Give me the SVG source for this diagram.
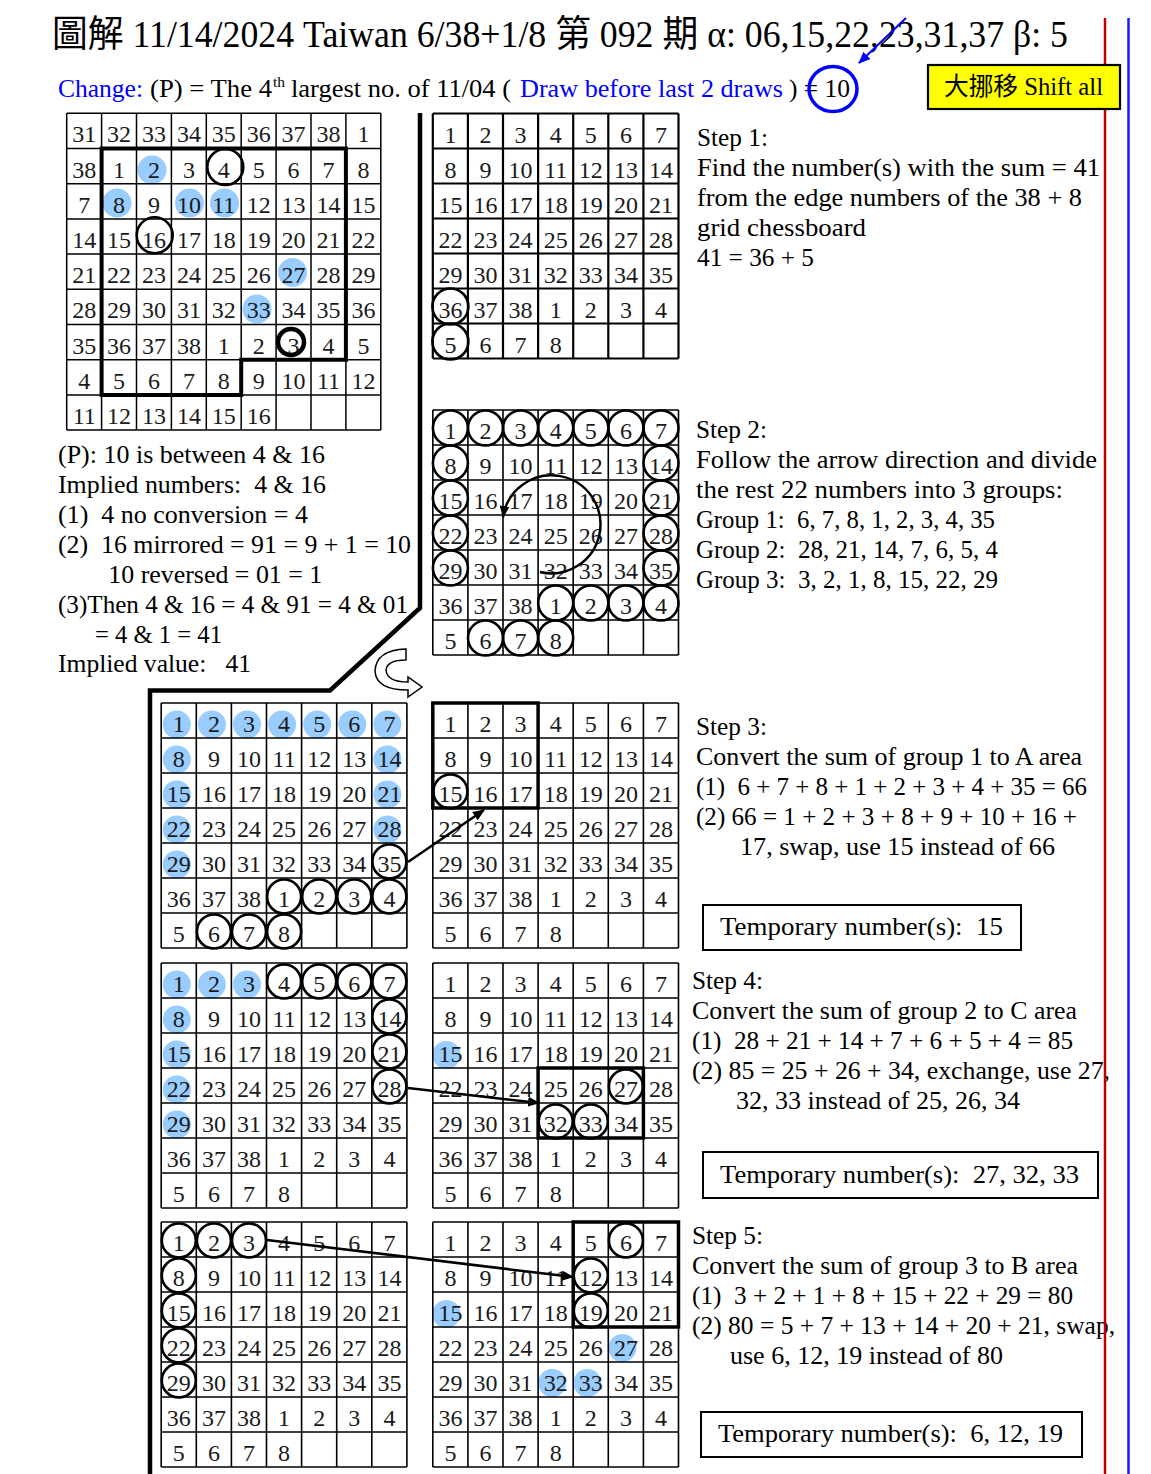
<svg xmlns="http://www.w3.org/2000/svg" width="1151" height="1474" viewBox="0 0 1151 1474">
<defs>
<style>
.t{font-family:"Liberation Serif","Noto Sans CJK TC",serif;font-size:25px;fill:#000}
.b{fill:#0000ff}
.n{font-family:"Liberation Serif",serif;font-size:24px;fill:#1a1a1a;text-anchor:middle}
.bc{fill:none;stroke:#000;stroke-width:2.6}
.bl{fill:#99ccff}
.tk{fill:none;stroke:#000;stroke-width:3.5}
.ar{fill:none;stroke:#000;stroke-width:2.5}
.box{fill:none;stroke:#000;stroke-width:2}
</style>
<marker id="ah" viewBox="0 0 12 10" refX="11" refY="5" markerWidth="12" markerHeight="10" markerUnits="userSpaceOnUse" orient="auto"><path d="M0,0L12,5L0,10z" fill="#000"/></marker>
<marker id="ahb" viewBox="0 0 12 10" refX="11" refY="5" markerWidth="12" markerHeight="10" markerUnits="userSpaceOnUse" orient="auto"><path d="M0,0L12,5L0,10z" fill="#0000ff"/></marker>
<path id="g7" fill="none" stroke="#000" d="M0,0H245.7M0,35H245.7M0,70H245.7M0,105H245.7M0,140H245.7M0,175H245.7M0,210H245.7M0,245H245.7M0,0V245M35.1,0V245M70.2,0V245M105.3,0V245M140.4,0V245M175.5,0V245M210.6,0V245M245.7,0V245"/>
</defs>
<rect width="1151" height="1474" fill="#fff"/>

<g id="title">
<text class="t" x="52" y="46.5" style="font-size:37px" textLength="1016" lengthAdjust="spacingAndGlyphs">圖解 11/14/2024 Taiwan 6/38+1/8 第 092 期 α: 06,15,22,23,31,37 β: 5</text>
</g>

<g id="change-line">
<text class="t b" x="58" y="97" textLength="85" lengthAdjust="spacingAndGlyphs">Change:</text>
<text class="t" x="150" y="97" textLength="122" lengthAdjust="spacingAndGlyphs">(P) = The 4</text>
<text class="t" x="273" y="87" style="font-size:15px" textLength="12" lengthAdjust="spacingAndGlyphs">th</text>
<text class="t" x="291" y="97" textLength="220" lengthAdjust="spacingAndGlyphs">largest no. of 11/04 (</text>
<text class="t b" x="520" y="97" textLength="263" lengthAdjust="spacingAndGlyphs">Draw before last 2 draws</text>
<text class="t" x="789" y="97" textLength="61" lengthAdjust="spacingAndGlyphs">) = 10</text>
<ellipse cx="833" cy="89" rx="24" ry="22.5" fill="none" stroke="#0000ff" stroke-width="3.5"/>
</g>

<g id="main-grid">
<circle class="bl" cx="152" cy="170" r="14.5"/>
<circle class="bl" cx="117" cy="203" r="14.5"/>
<circle class="bl" cx="189.5" cy="203" r="14.5"/>
<circle class="bl" cx="224.5" cy="203" r="14.5"/>
<circle class="bl" cx="292.5" cy="272.5" r="14.5"/>
<circle class="bl" cx="257" cy="309" r="14.5"/>
<path fill="none" stroke="#000" stroke-width="1.5" d="M66.7,113.3H380.8M66.7,148.5H380.8M66.7,183.7H380.8M66.7,218.9H380.8M66.7,254.1H380.8M66.7,289.3H380.8M66.7,324.5H380.8M66.7,359.7H380.8M66.7,394.9H380.8M66.7,430.1H380.8M66.7,113.3V430.1M101.6,113.3V430.1M136.5,113.3V430.1M171.4,113.3V430.1M206.3,113.3V430.1M241.2,113.3V430.1M276.1,113.3V430.1M311,113.3V430.1M345.9,113.3V430.1M380.8,113.3V430.1"/>
<path fill="none" stroke="#000" stroke-width="4" d="M101.6,148.5H345.9V359.7H241.2V394.9H101.6Z"/>
<text class="n" y="142.3"><tspan x="84.2">31</tspan><tspan x="119.1">32</tspan><tspan x="154">33</tspan><tspan x="188.9">34</tspan><tspan x="223.8">35</tspan><tspan x="258.7">36</tspan><tspan x="293.6">37</tspan><tspan x="328.5">38</tspan><tspan x="363.4">1</tspan></text>
<text class="n" y="177.5"><tspan x="84.2">38</tspan><tspan x="119.1">1</tspan><tspan x="154">2</tspan><tspan x="188.9">3</tspan><tspan x="223.8">4</tspan><tspan x="258.7">5</tspan><tspan x="293.6">6</tspan><tspan x="328.5">7</tspan><tspan x="363.4">8</tspan></text>
<text class="n" y="212.7"><tspan x="84.2">7</tspan><tspan x="119.1">8</tspan><tspan x="154">9</tspan><tspan x="188.9">10</tspan><tspan x="223.8">11</tspan><tspan x="258.7">12</tspan><tspan x="293.6">13</tspan><tspan x="328.5">14</tspan><tspan x="363.4">15</tspan></text>
<text class="n" y="247.9"><tspan x="84.2">14</tspan><tspan x="119.1">15</tspan><tspan x="154">16</tspan><tspan x="188.9">17</tspan><tspan x="223.8">18</tspan><tspan x="258.7">19</tspan><tspan x="293.6">20</tspan><tspan x="328.5">21</tspan><tspan x="363.4">22</tspan></text>
<text class="n" y="283.1"><tspan x="84.2">21</tspan><tspan x="119.1">22</tspan><tspan x="154">23</tspan><tspan x="188.9">24</tspan><tspan x="223.8">25</tspan><tspan x="258.7">26</tspan><tspan x="293.6">27</tspan><tspan x="328.5">28</tspan><tspan x="363.4">29</tspan></text>
<text class="n" y="318.3"><tspan x="84.2">28</tspan><tspan x="119.1">29</tspan><tspan x="154">30</tspan><tspan x="188.9">31</tspan><tspan x="223.8">32</tspan><tspan x="258.7">33</tspan><tspan x="293.6">34</tspan><tspan x="328.5">35</tspan><tspan x="363.4">36</tspan></text>
<text class="n" y="353.5"><tspan x="84.2">35</tspan><tspan x="119.1">36</tspan><tspan x="154">37</tspan><tspan x="188.9">38</tspan><tspan x="223.8">1</tspan><tspan x="258.7">2</tspan><tspan x="293.6">3</tspan><tspan x="328.5">4</tspan><tspan x="363.4">5</tspan></text>
<text class="n" y="388.7"><tspan x="84.2">4</tspan><tspan x="119.1">5</tspan><tspan x="154">6</tspan><tspan x="188.9">7</tspan><tspan x="223.8">8</tspan><tspan x="258.7">9</tspan><tspan x="293.6">10</tspan><tspan x="328.5">11</tspan><tspan x="363.4">12</tspan></text>
<text class="n" y="423.9"><tspan x="84.2">11</tspan><tspan x="119.1">12</tspan><tspan x="154">13</tspan><tspan x="188.9">14</tspan><tspan x="223.8">15</tspan><tspan x="258.7">16</tspan></text>
<circle class="bc" cx="225.3" cy="167" r="18"/>
<circle class="bc" cx="154.7" cy="235.3" r="18"/>
<circle fill="none" stroke="#000" stroke-width="4.5" cx="291" cy="342" r="13"/>
</g>

<g id="p-text">
<text class="t" x="58" y="463.3" textLength="267" lengthAdjust="spacingAndGlyphs">(P): 10 is between 4 &amp; 16</text>
<text class="t" x="58" y="493.2" xml:space="preserve" textLength="268" lengthAdjust="spacingAndGlyphs">Implied numbers:  4 &amp; 16</text>
<text class="t" x="58" y="523.1" xml:space="preserve" textLength="250" lengthAdjust="spacingAndGlyphs">(1)  4 no conversion = 4</text>
<text class="t" x="58" y="553" xml:space="preserve" textLength="353" lengthAdjust="spacingAndGlyphs">(2)  16 mirrored = 91 = 9 + 1 = 10</text>
<text class="t" x="108.3" y="582.9" textLength="214" lengthAdjust="spacingAndGlyphs">10 reversed = 01 = 1</text>
<text class="t" x="58" y="612.8" textLength="350" lengthAdjust="spacingAndGlyphs">(3)Then 4 &amp; 16 = 4 &amp; 91 = 4 &amp; 01</text>
<text class="t" x="95" y="642.6" textLength="127" lengthAdjust="spacingAndGlyphs">= 4 &amp; 1 = 41</text>
<text class="t" x="58" y="672.4" xml:space="preserve" textLength="193" lengthAdjust="spacingAndGlyphs">Implied value:   41</text>
</g>

<g id="frame">
<path d="M420,113V608L330,690.5H150V1474" fill="none" stroke="#000" stroke-width="4.5"/>
</g>

<g id="step1-grid" transform="translate(432.8,113.5)">
<use href="#g7" stroke-width="2.2"/>
<text class="n" y="29"><tspan x="17.6">1</tspan><tspan x="52.7">2</tspan><tspan x="87.8">3</tspan><tspan x="122.9">4</tspan><tspan x="158">5</tspan><tspan x="193.1">6</tspan><tspan x="228.2">7</tspan></text>
<text class="n" y="64"><tspan x="17.6">8</tspan><tspan x="52.7">9</tspan><tspan x="87.8">10</tspan><tspan x="122.9">11</tspan><tspan x="158">12</tspan><tspan x="193.1">13</tspan><tspan x="228.2">14</tspan></text>
<text class="n" y="99"><tspan x="17.6">15</tspan><tspan x="52.7">16</tspan><tspan x="87.8">17</tspan><tspan x="122.9">18</tspan><tspan x="158">19</tspan><tspan x="193.1">20</tspan><tspan x="228.2">21</tspan></text>
<text class="n" y="134"><tspan x="17.6">22</tspan><tspan x="52.7">23</tspan><tspan x="87.8">24</tspan><tspan x="122.9">25</tspan><tspan x="158">26</tspan><tspan x="193.1">27</tspan><tspan x="228.2">28</tspan></text>
<text class="n" y="169"><tspan x="17.6">29</tspan><tspan x="52.7">30</tspan><tspan x="87.8">31</tspan><tspan x="122.9">32</tspan><tspan x="158">33</tspan><tspan x="193.1">34</tspan><tspan x="228.2">35</tspan></text>
<text class="n" y="204"><tspan x="17.6">36</tspan><tspan x="52.7">37</tspan><tspan x="87.8">38</tspan><tspan x="122.9">1</tspan><tspan x="158">2</tspan><tspan x="193.1">3</tspan><tspan x="228.2">4</tspan></text>
<text class="n" y="239"><tspan x="17.6">5</tspan><tspan x="52.7">6</tspan><tspan x="87.8">7</tspan><tspan x="122.9">8</tspan></text>
<circle class="bc" cx="17.6" cy="193" r="18"/>
<circle class="bc" cx="17.6" cy="228" r="18"/>
</g>

<g id="step1-text">
<text class="t" x="697" y="146" textLength="71" lengthAdjust="spacingAndGlyphs">Step 1:</text>
<text class="t" x="697" y="176" textLength="403" lengthAdjust="spacingAndGlyphs">Find the number(s) with the sum = 41</text>
<text class="t" x="697" y="206" textLength="385" lengthAdjust="spacingAndGlyphs">from the edge numbers of the 38 + 8</text>
<text class="t" x="697" y="236" textLength="169" lengthAdjust="spacingAndGlyphs">grid chessboard</text>
<text class="t" x="697" y="266" textLength="117" lengthAdjust="spacingAndGlyphs">41 = 36 + 5</text>
</g>

<g id="step2-grid" transform="translate(432.8,410)">
<use href="#g7" stroke-width="1.6"/>
<text class="n" y="29"><tspan x="17.6">1</tspan><tspan x="52.7">2</tspan><tspan x="87.8">3</tspan><tspan x="122.9">4</tspan><tspan x="158">5</tspan><tspan x="193.1">6</tspan><tspan x="228.2">7</tspan></text>
<text class="n" y="64"><tspan x="17.6">8</tspan><tspan x="52.7">9</tspan><tspan x="87.8">10</tspan><tspan x="122.9">11</tspan><tspan x="158">12</tspan><tspan x="193.1">13</tspan><tspan x="228.2">14</tspan></text>
<text class="n" y="99"><tspan x="17.6">15</tspan><tspan x="52.7">16</tspan><tspan x="87.8">17</tspan><tspan x="122.9">18</tspan><tspan x="158">19</tspan><tspan x="193.1">20</tspan><tspan x="228.2">21</tspan></text>
<text class="n" y="134"><tspan x="17.6">22</tspan><tspan x="52.7">23</tspan><tspan x="87.8">24</tspan><tspan x="122.9">25</tspan><tspan x="158">26</tspan><tspan x="193.1">27</tspan><tspan x="228.2">28</tspan></text>
<text class="n" y="169"><tspan x="17.6">29</tspan><tspan x="52.7">30</tspan><tspan x="87.8">31</tspan><tspan x="122.9">32</tspan><tspan x="158">33</tspan><tspan x="193.1">34</tspan><tspan x="228.2">35</tspan></text>
<text class="n" y="204"><tspan x="17.6">36</tspan><tspan x="52.7">37</tspan><tspan x="87.8">38</tspan><tspan x="122.9">1</tspan><tspan x="158">2</tspan><tspan x="193.1">3</tspan><tspan x="228.2">4</tspan></text>
<text class="n" y="239"><tspan x="17.6">5</tspan><tspan x="52.7">6</tspan><tspan x="87.8">7</tspan><tspan x="122.9">8</tspan></text>
<circle class="bc" cx="17.6" cy="18" r="17.5"/><circle class="bc" cx="52.7" cy="18" r="17.5"/><circle class="bc" cx="87.8" cy="18" r="17.5"/><circle class="bc" cx="122.9" cy="18" r="17.5"/><circle class="bc" cx="158" cy="18" r="17.5"/><circle class="bc" cx="193.1" cy="18" r="17.5"/><circle class="bc" cx="228.2" cy="18" r="17.5"/>
<circle class="bc" cx="17.6" cy="53" r="17.5"/><circle class="bc" cx="228.2" cy="53" r="17.5"/>
<circle class="bc" cx="17.6" cy="88" r="17.5"/><circle class="bc" cx="228.2" cy="88" r="17.5"/>
<circle class="bc" cx="17.6" cy="123" r="17.5"/><circle class="bc" cx="228.2" cy="123" r="17.5"/>
<circle class="bc" cx="17.6" cy="158" r="17.5"/><circle class="bc" cx="228.2" cy="158" r="17.5"/>
<circle class="bc" cx="122.9" cy="193" r="17.5"/><circle class="bc" cx="158" cy="193" r="17.5"/><circle class="bc" cx="193.1" cy="193" r="17.5"/><circle class="bc" cx="228.2" cy="193" r="17.5"/>
<circle class="bc" cx="52.7" cy="228" r="17.5"/><circle class="bc" cx="87.8" cy="228" r="17.5"/><circle class="bc" cx="122.9" cy="228" r="17.5"/>
</g>

<g id="step2-text">
<text class="t" x="696" y="438.3" textLength="71" lengthAdjust="spacingAndGlyphs">Step 2:</text>
<text class="t" x="696" y="468.3" textLength="401" lengthAdjust="spacingAndGlyphs">Follow the arrow direction and divide</text>
<text class="t" x="696" y="498.3" textLength="367" lengthAdjust="spacingAndGlyphs">the rest 22 numbers into 3 groups:</text>
<text class="t" x="696" y="528.3" xml:space="preserve" textLength="299" lengthAdjust="spacingAndGlyphs">Group 1:  6, 7, 8, 1, 2, 3, 4, 35</text>
<text class="t" x="696" y="558.3" xml:space="preserve" textLength="302" lengthAdjust="spacingAndGlyphs">Group 2:  28, 21, 14, 7, 6, 5, 4</text>
<text class="t" x="696" y="588.3" xml:space="preserve" textLength="302" lengthAdjust="spacingAndGlyphs">Group 3:  3, 2, 1, 8, 15, 22, 29</text>
</g>

<g id="step3-left" transform="translate(161.2,703)">
<circle class="bl" cx="15.6" cy="21.5" r="14"/><circle class="bl" cx="50.7" cy="21.5" r="14"/><circle class="bl" cx="85.8" cy="21.5" r="14"/><circle class="bl" cx="120.9" cy="21.5" r="14"/><circle class="bl" cx="156" cy="21.5" r="14"/><circle class="bl" cx="191.1" cy="21.5" r="14"/><circle class="bl" cx="226.2" cy="21.5" r="14"/>
<circle class="bl" cx="15.6" cy="56.5" r="14"/><circle class="bl" cx="226.2" cy="56.5" r="14"/>
<circle class="bl" cx="15.6" cy="91.5" r="14"/><circle class="bl" cx="226.2" cy="91.5" r="14"/>
<circle class="bl" cx="15.6" cy="126.5" r="14"/><circle class="bl" cx="226.2" cy="126.5" r="14"/>
<circle class="bl" cx="15.6" cy="161.5" r="14"/>
<use href="#g7" stroke-width="1.6"/>
<text class="n" y="29"><tspan x="17.6">1</tspan><tspan x="52.7">2</tspan><tspan x="87.8">3</tspan><tspan x="122.9">4</tspan><tspan x="158">5</tspan><tspan x="193.1">6</tspan><tspan x="228.2">7</tspan></text>
<text class="n" y="64"><tspan x="17.6">8</tspan><tspan x="52.7">9</tspan><tspan x="87.8">10</tspan><tspan x="122.9">11</tspan><tspan x="158">12</tspan><tspan x="193.1">13</tspan><tspan x="228.2">14</tspan></text>
<text class="n" y="99"><tspan x="17.6">15</tspan><tspan x="52.7">16</tspan><tspan x="87.8">17</tspan><tspan x="122.9">18</tspan><tspan x="158">19</tspan><tspan x="193.1">20</tspan><tspan x="228.2">21</tspan></text>
<text class="n" y="134"><tspan x="17.6">22</tspan><tspan x="52.7">23</tspan><tspan x="87.8">24</tspan><tspan x="122.9">25</tspan><tspan x="158">26</tspan><tspan x="193.1">27</tspan><tspan x="228.2">28</tspan></text>
<text class="n" y="169"><tspan x="17.6">29</tspan><tspan x="52.7">30</tspan><tspan x="87.8">31</tspan><tspan x="122.9">32</tspan><tspan x="158">33</tspan><tspan x="193.1">34</tspan><tspan x="228.2">35</tspan></text>
<text class="n" y="204"><tspan x="17.6">36</tspan><tspan x="52.7">37</tspan><tspan x="87.8">38</tspan><tspan x="122.9">1</tspan><tspan x="158">2</tspan><tspan x="193.1">3</tspan><tspan x="228.2">4</tspan></text>
<text class="n" y="239"><tspan x="17.6">5</tspan><tspan x="52.7">6</tspan><tspan x="87.8">7</tspan><tspan x="122.9">8</tspan></text>
<circle class="bc" cx="228.2" cy="158.5" r="17"/>
<circle class="bc" cx="122.9" cy="193.5" r="17"/><circle class="bc" cx="158" cy="193.5" r="17"/><circle class="bc" cx="193.1" cy="193.5" r="17"/><circle class="bc" cx="228.2" cy="193.5" r="17"/>
<circle class="bc" cx="52.7" cy="228.5" r="17"/><circle class="bc" cx="87.8" cy="228.5" r="17"/><circle class="bc" cx="122.9" cy="228.5" r="17"/>
</g>

<g id="step3-right" transform="translate(432.8,703)">
<use href="#g7" stroke-width="1.6"/>
<text class="n" y="29"><tspan x="17.6">1</tspan><tspan x="52.7">2</tspan><tspan x="87.8">3</tspan><tspan x="122.9">4</tspan><tspan x="158">5</tspan><tspan x="193.1">6</tspan><tspan x="228.2">7</tspan></text>
<text class="n" y="64"><tspan x="17.6">8</tspan><tspan x="52.7">9</tspan><tspan x="87.8">10</tspan><tspan x="122.9">11</tspan><tspan x="158">12</tspan><tspan x="193.1">13</tspan><tspan x="228.2">14</tspan></text>
<text class="n" y="99"><tspan x="17.6">15</tspan><tspan x="52.7">16</tspan><tspan x="87.8">17</tspan><tspan x="122.9">18</tspan><tspan x="158">19</tspan><tspan x="193.1">20</tspan><tspan x="228.2">21</tspan></text>
<text class="n" y="134"><tspan x="17.6">22</tspan><tspan x="52.7">23</tspan><tspan x="87.8">24</tspan><tspan x="122.9">25</tspan><tspan x="158">26</tspan><tspan x="193.1">27</tspan><tspan x="228.2">28</tspan></text>
<text class="n" y="169"><tspan x="17.6">29</tspan><tspan x="52.7">30</tspan><tspan x="87.8">31</tspan><tspan x="122.9">32</tspan><tspan x="158">33</tspan><tspan x="193.1">34</tspan><tspan x="228.2">35</tspan></text>
<text class="n" y="204"><tspan x="17.6">36</tspan><tspan x="52.7">37</tspan><tspan x="87.8">38</tspan><tspan x="122.9">1</tspan><tspan x="158">2</tspan><tspan x="193.1">3</tspan><tspan x="228.2">4</tspan></text>
<text class="n" y="239"><tspan x="17.6">5</tspan><tspan x="52.7">6</tspan><tspan x="87.8">7</tspan><tspan x="122.9">8</tspan></text>
<rect class="tk" x="0" y="0" width="105.3" height="105"/>
<circle class="bc" cx="17.6" cy="88.5" r="17"/>
</g>

<g id="step3-text">
<text class="t" x="696" y="735" textLength="71" lengthAdjust="spacingAndGlyphs">Step 3:</text>
<text class="t" x="696" y="765" textLength="386" lengthAdjust="spacingAndGlyphs">Convert the sum of group 1 to A area</text>
<text class="t" x="696" y="795" xml:space="preserve" textLength="391" lengthAdjust="spacingAndGlyphs">(1)  6 + 7 + 8 + 1 + 2 + 3 + 4 + 35 = 66</text>
<text class="t" x="696" y="825" textLength="381" lengthAdjust="spacingAndGlyphs">(2) 66 = 1 + 2 + 3 + 8 + 9 + 10 + 16 +</text>
<text class="t" x="740" y="855" textLength="315" lengthAdjust="spacingAndGlyphs">17, swap, use 15 instead of 66</text>
<rect class="box" x="703" y="905" width="318" height="45"/>
<text class="t" x="720" y="935" xml:space="preserve" textLength="283" lengthAdjust="spacingAndGlyphs">Temporary number(s):  15</text>
</g>

<g id="step4-left" transform="translate(161.2,963)">
<circle class="bl" cx="15.6" cy="21.5" r="14"/><circle class="bl" cx="50.7" cy="21.5" r="14"/><circle class="bl" cx="85.8" cy="21.5" r="14"/>
<circle class="bl" cx="15.6" cy="56.5" r="14"/><circle class="bl" cx="15.6" cy="91.5" r="14"/><circle class="bl" cx="15.6" cy="126.5" r="14"/><circle class="bl" cx="15.6" cy="161.5" r="14"/>
<use href="#g7" stroke-width="1.6"/>
<text class="n" y="29"><tspan x="17.6">1</tspan><tspan x="52.7">2</tspan><tspan x="87.8">3</tspan><tspan x="122.9">4</tspan><tspan x="158">5</tspan><tspan x="193.1">6</tspan><tspan x="228.2">7</tspan></text>
<text class="n" y="64"><tspan x="17.6">8</tspan><tspan x="52.7">9</tspan><tspan x="87.8">10</tspan><tspan x="122.9">11</tspan><tspan x="158">12</tspan><tspan x="193.1">13</tspan><tspan x="228.2">14</tspan></text>
<text class="n" y="99"><tspan x="17.6">15</tspan><tspan x="52.7">16</tspan><tspan x="87.8">17</tspan><tspan x="122.9">18</tspan><tspan x="158">19</tspan><tspan x="193.1">20</tspan><tspan x="228.2">21</tspan></text>
<text class="n" y="134"><tspan x="17.6">22</tspan><tspan x="52.7">23</tspan><tspan x="87.8">24</tspan><tspan x="122.9">25</tspan><tspan x="158">26</tspan><tspan x="193.1">27</tspan><tspan x="228.2">28</tspan></text>
<text class="n" y="169"><tspan x="17.6">29</tspan><tspan x="52.7">30</tspan><tspan x="87.8">31</tspan><tspan x="122.9">32</tspan><tspan x="158">33</tspan><tspan x="193.1">34</tspan><tspan x="228.2">35</tspan></text>
<text class="n" y="204"><tspan x="17.6">36</tspan><tspan x="52.7">37</tspan><tspan x="87.8">38</tspan><tspan x="122.9">1</tspan><tspan x="158">2</tspan><tspan x="193.1">3</tspan><tspan x="228.2">4</tspan></text>
<text class="n" y="239"><tspan x="17.6">5</tspan><tspan x="52.7">6</tspan><tspan x="87.8">7</tspan><tspan x="122.9">8</tspan></text>
<circle class="bc" cx="122.9" cy="18.5" r="17"/><circle class="bc" cx="158" cy="18.5" r="17"/><circle class="bc" cx="193.1" cy="18.5" r="17"/><circle class="bc" cx="228.2" cy="18.5" r="17"/>
<circle class="bc" cx="228.2" cy="53.5" r="17"/><circle class="bc" cx="228.2" cy="88.5" r="17"/><circle class="bc" cx="228.2" cy="123.5" r="17"/>
</g>

<g id="step4-right" transform="translate(432.8,963)">
<circle class="bl" cx="13.6" cy="92" r="14"/>
<use href="#g7" stroke-width="1.6"/>
<text class="n" y="29"><tspan x="17.6">1</tspan><tspan x="52.7">2</tspan><tspan x="87.8">3</tspan><tspan x="122.9">4</tspan><tspan x="158">5</tspan><tspan x="193.1">6</tspan><tspan x="228.2">7</tspan></text>
<text class="n" y="64"><tspan x="17.6">8</tspan><tspan x="52.7">9</tspan><tspan x="87.8">10</tspan><tspan x="122.9">11</tspan><tspan x="158">12</tspan><tspan x="193.1">13</tspan><tspan x="228.2">14</tspan></text>
<text class="n" y="99"><tspan x="17.6">15</tspan><tspan x="52.7">16</tspan><tspan x="87.8">17</tspan><tspan x="122.9">18</tspan><tspan x="158">19</tspan><tspan x="193.1">20</tspan><tspan x="228.2">21</tspan></text>
<text class="n" y="134"><tspan x="17.6">22</tspan><tspan x="52.7">23</tspan><tspan x="87.8">24</tspan><tspan x="122.9">25</tspan><tspan x="158">26</tspan><tspan x="193.1">27</tspan><tspan x="228.2">28</tspan></text>
<text class="n" y="169"><tspan x="17.6">29</tspan><tspan x="52.7">30</tspan><tspan x="87.8">31</tspan><tspan x="122.9">32</tspan><tspan x="158">33</tspan><tspan x="193.1">34</tspan><tspan x="228.2">35</tspan></text>
<text class="n" y="204"><tspan x="17.6">36</tspan><tspan x="52.7">37</tspan><tspan x="87.8">38</tspan><tspan x="122.9">1</tspan><tspan x="158">2</tspan><tspan x="193.1">3</tspan><tspan x="228.2">4</tspan></text>
<text class="n" y="239"><tspan x="17.6">5</tspan><tspan x="52.7">6</tspan><tspan x="87.8">7</tspan><tspan x="122.9">8</tspan></text>
<rect class="tk" x="105.3" y="105" width="105.3" height="70"/>
<circle class="bc" cx="193.1" cy="123.5" r="17"/>
<circle class="bc" cx="122.9" cy="158.5" r="17"/><circle class="bc" cx="158" cy="158.5" r="17"/>
</g>

<g id="step4-text">
<text class="t" x="692" y="989.3" textLength="71" lengthAdjust="spacingAndGlyphs">Step 4:</text>
<text class="t" x="692" y="1019.3" textLength="385" lengthAdjust="spacingAndGlyphs">Convert the sum of group 2 to C area</text>
<text class="t" x="692" y="1049.3" xml:space="preserve" textLength="381" lengthAdjust="spacingAndGlyphs">(1)  28 + 21 + 14 + 7 + 6 + 5 + 4 = 85</text>
<text class="t" x="692" y="1079.3" textLength="418" lengthAdjust="spacingAndGlyphs">(2) 85 = 25 + 26 + 34, exchange, use 27,</text>
<text class="t" x="736" y="1109.3" textLength="284" lengthAdjust="spacingAndGlyphs">32, 33 instead of 25, 26, 34</text>
<rect class="box" x="703" y="1152" width="395" height="46"/>
<text class="t" x="720" y="1183.3" xml:space="preserve" textLength="359" lengthAdjust="spacingAndGlyphs">Temporary number(s):  27, 32, 33</text>
</g>

<g id="step5-left" transform="translate(161.2,1222)">
<use href="#g7" stroke-width="1.6"/>
<text class="n" y="29"><tspan x="17.6">1</tspan><tspan x="52.7">2</tspan><tspan x="87.8">3</tspan><tspan x="122.9">4</tspan><tspan x="158">5</tspan><tspan x="193.1">6</tspan><tspan x="228.2">7</tspan></text>
<text class="n" y="64"><tspan x="17.6">8</tspan><tspan x="52.7">9</tspan><tspan x="87.8">10</tspan><tspan x="122.9">11</tspan><tspan x="158">12</tspan><tspan x="193.1">13</tspan><tspan x="228.2">14</tspan></text>
<text class="n" y="99"><tspan x="17.6">15</tspan><tspan x="52.7">16</tspan><tspan x="87.8">17</tspan><tspan x="122.9">18</tspan><tspan x="158">19</tspan><tspan x="193.1">20</tspan><tspan x="228.2">21</tspan></text>
<text class="n" y="134"><tspan x="17.6">22</tspan><tspan x="52.7">23</tspan><tspan x="87.8">24</tspan><tspan x="122.9">25</tspan><tspan x="158">26</tspan><tspan x="193.1">27</tspan><tspan x="228.2">28</tspan></text>
<text class="n" y="169"><tspan x="17.6">29</tspan><tspan x="52.7">30</tspan><tspan x="87.8">31</tspan><tspan x="122.9">32</tspan><tspan x="158">33</tspan><tspan x="193.1">34</tspan><tspan x="228.2">35</tspan></text>
<text class="n" y="204"><tspan x="17.6">36</tspan><tspan x="52.7">37</tspan><tspan x="87.8">38</tspan><tspan x="122.9">1</tspan><tspan x="158">2</tspan><tspan x="193.1">3</tspan><tspan x="228.2">4</tspan></text>
<text class="n" y="239"><tspan x="17.6">5</tspan><tspan x="52.7">6</tspan><tspan x="87.8">7</tspan><tspan x="122.9">8</tspan></text>
<circle class="bc" cx="17.6" cy="18.5" r="17"/><circle class="bc" cx="52.7" cy="18.5" r="17"/><circle class="bc" cx="87.8" cy="18.5" r="17"/>
<circle class="bc" cx="17.6" cy="53.5" r="17"/><circle class="bc" cx="17.6" cy="88.5" r="17"/><circle class="bc" cx="17.6" cy="123.5" r="17"/><circle class="bc" cx="17.6" cy="158.5" r="17"/>
</g>

<g id="step5-right" transform="translate(432.8,1222)">
<circle class="bl" cx="13.6" cy="92" r="14"/>
<circle class="bl" cx="189.6" cy="126" r="14"/>
<circle class="bl" cx="119.4" cy="161" r="14"/>
<circle class="bl" cx="154.5" cy="161" r="14"/>
<use href="#g7" stroke-width="1.6"/>
<text class="n" y="29"><tspan x="17.6">1</tspan><tspan x="52.7">2</tspan><tspan x="87.8">3</tspan><tspan x="122.9">4</tspan><tspan x="158">5</tspan><tspan x="193.1">6</tspan><tspan x="228.2">7</tspan></text>
<text class="n" y="64"><tspan x="17.6">8</tspan><tspan x="52.7">9</tspan><tspan x="87.8">10</tspan><tspan x="122.9">11</tspan><tspan x="158">12</tspan><tspan x="193.1">13</tspan><tspan x="228.2">14</tspan></text>
<text class="n" y="99"><tspan x="17.6">15</tspan><tspan x="52.7">16</tspan><tspan x="87.8">17</tspan><tspan x="122.9">18</tspan><tspan x="158">19</tspan><tspan x="193.1">20</tspan><tspan x="228.2">21</tspan></text>
<text class="n" y="134"><tspan x="17.6">22</tspan><tspan x="52.7">23</tspan><tspan x="87.8">24</tspan><tspan x="122.9">25</tspan><tspan x="158">26</tspan><tspan x="193.1">27</tspan><tspan x="228.2">28</tspan></text>
<text class="n" y="169"><tspan x="17.6">29</tspan><tspan x="52.7">30</tspan><tspan x="87.8">31</tspan><tspan x="122.9">32</tspan><tspan x="158">33</tspan><tspan x="193.1">34</tspan><tspan x="228.2">35</tspan></text>
<text class="n" y="204"><tspan x="17.6">36</tspan><tspan x="52.7">37</tspan><tspan x="87.8">38</tspan><tspan x="122.9">1</tspan><tspan x="158">2</tspan><tspan x="193.1">3</tspan><tspan x="228.2">4</tspan></text>
<text class="n" y="239"><tspan x="17.6">5</tspan><tspan x="52.7">6</tspan><tspan x="87.8">7</tspan><tspan x="122.9">8</tspan></text>
<rect class="tk" x="140.4" y="0" width="105.3" height="105"/>
<circle class="bc" cx="193.1" cy="18.5" r="17"/>
<circle class="bc" cx="158" cy="53.5" r="17"/><circle class="bc" cx="158" cy="88.5" r="17"/>
</g>

<g id="step5-text">
<text class="t" x="692" y="1244.3" textLength="71" lengthAdjust="spacingAndGlyphs">Step 5:</text>
<text class="t" x="692" y="1274.3" textLength="386" lengthAdjust="spacingAndGlyphs">Convert the sum of group 3 to B area</text>
<text class="t" x="692" y="1304.3" xml:space="preserve" textLength="381" lengthAdjust="spacingAndGlyphs">(1)  3 + 2 + 1 + 8 + 15 + 22 + 29 = 80</text>
<text class="t" x="692" y="1334.3" textLength="423" lengthAdjust="spacingAndGlyphs">(2) 80 = 5 + 7 + 13 + 14 + 20 + 21, swap,</text>
<text class="t" x="730" y="1364.3" textLength="273" lengthAdjust="spacingAndGlyphs">use 6, 12, 19 instead of 80</text>
<rect class="box" x="701" y="1412" width="381" height="45"/>
<text class="t" x="718" y="1441.7" xml:space="preserve" textLength="345" lengthAdjust="spacingAndGlyphs">Temporary number(s):  6, 12, 19</text>
</g>

<g id="connectors">
<line x1="906" y1="18" x2="859" y2="63" stroke="#0000ff" stroke-width="2" marker-end="url(#ahb)"/>
<path class="ar" d="M540,572A49,49 0 1 0 503,517" marker-end="url(#ah)"/>
<path d="M406,649Q376,650 375,671Q376,690 408,690L408,697L422,687L408,677L408,682Q387,682 386,670Q387,660 406,660Z" fill="#fff" stroke="#000" stroke-width="1.5"/>
<line class="ar" x1="408" y1="862" x2="484" y2="810" marker-end="url(#ah)"/>
<line class="ar" x1="408" y1="1088" x2="539" y2="1103" marker-end="url(#ah)"/>
<line class="ar" x1="267" y1="1240" x2="573" y2="1277" marker-end="url(#ah)"/>
</g>

<g id="margins">
<line x1="1105" y1="18" x2="1105" y2="1474" stroke="#c00000" stroke-width="2.5"/>
<line x1="1128.5" y1="18" x2="1128.5" y2="1474" stroke="#1a1aff" stroke-width="2.5"/>
</g>

<g id="shift-all">
<rect x="928" y="65" width="192" height="44" fill="#ffff00" stroke="#000" stroke-width="2.2"/>
<text class="t" x="944" y="95" textLength="159" lengthAdjust="spacingAndGlyphs">大挪移 Shift all</text>
</g>
</svg>
